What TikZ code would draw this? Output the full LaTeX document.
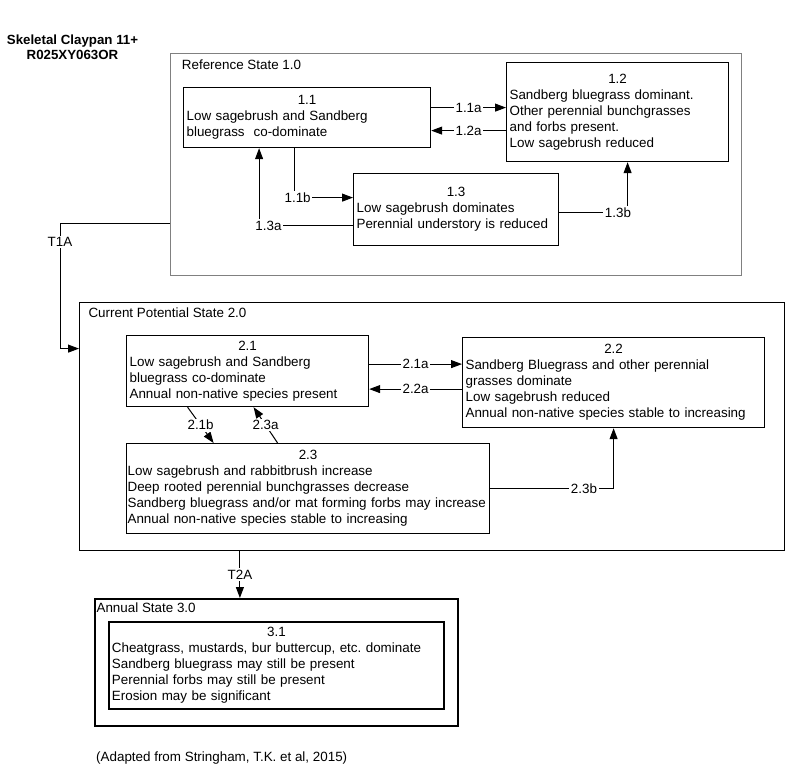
\documentclass[tikz,border=0pt]{standalone}
\usepackage{fontspec}
\setmainfont{Liberation Sans}
\usetikzlibrary{arrows.meta,calc}
\frenchspacing

\tikzset{
  stbox/.style={draw, line width=1.2pt, anchor=north west, align=left, inner xsep=3pt, inner ysep=0pt},
  stlbl/.style={anchor=base west, inner sep=0pt},
  tr/.style={line width=1pt, -{Triangle[length=11pt,width=8pt]}},
  lbl/.style={fill=white, inner sep=1.5pt},
}

\begin{document}
\begin{tikzpicture}[x=1pt, y=-1pt, font=\fontsize{13.4}{16}\selectfont]
    %%Background
    \useasboundingbox (0,0) rectangle (800,773);
    %%
    \node[font=\fontsize{13.3}{15}\selectfont\bfseries, align=center] (title) at (72.5,47.7) {Skeletal Claypan 11+\\R025XY063OR};

    %% state containers
    \node[stbox, draw=gray, minimum width=571pt, minimum height=222pt] (ref) at (170,53) {};
    \node[stlbl] (reft) at ($(ref.north west)+(11.7,16.3)$) {Reference State 1.0};
    \node[stbox, minimum width=705pt, minimum height=248pt] (cur) at (79,302) {};
    \node[stlbl] (curt) at ($(cur.north west)+(9.3,15.6)$) {Current Potential State 2.0};
    \node[stbox, line width=1.8pt, minimum width=363pt, minimum height=127pt] (ann) at (94,598) {};
    \node[stlbl] (annt) at ($(ann.north west)+(2.4,14.7)$) {Annual State 3.0};

    %% community phases
    \node[stbox, text width=241pt, minimum height=60pt] (s11) at (183,87)
        {\makebox[\linewidth]{1.1}\\Low sagebrush and Sandberg\\bluegrass~~co-dominate};
    \node[stbox, text width=216pt, minimum height=99pt] (s12) at (506,62)
        {\makebox[\linewidth]{1.2}\\Sandberg bluegrass dominant.\\Other perennial bunchgrasses\\and forbs present.\\Low sagebrush reduced};
    \node[stbox, text width=199pt, minimum height=72pt] (s13) at (353,173)
        {\makebox[\linewidth]{1.3}\\Low sagebrush dominates\\Perennial understory is reduced};

    \node[stbox, text width=236pt, minimum height=71pt] (s21) at (126,335)
        {\makebox[\linewidth]{2.1}\\Low sagebrush and Sandberg\\bluegrass co-dominate\\Annual non-native species present};
    \node[stbox, text width=296pt, minimum height=90pt] (s22) at (462,337)
        {\makebox[\linewidth]{2.2}\\Sandberg Bluegrass and other perennial\\grasses dominate\\Low sagebrush reduced\\Annual non-native species stable to increasing};
    \node[stbox, inner xsep=1pt, text width=361pt, minimum height=90pt] (s23) at (126,443)
        {\makebox[\linewidth]{2.3}\\Low sagebrush and rabbitbrush increase\\Deep rooted perennial bunchgrasses decrease\\\mbox{Sandberg bluegrass and/or mat forming forbs may increase}\\Annual non-native species stable to increasing};

    \node[stbox, line width=1.8pt, text width=329pt, minimum height=87pt] (s31) at (108,621)
        {\makebox[\linewidth]{3.1}\\Cheatgrass, mustards, bur buttercup, etc. dominate\\Sandberg bluegrass may still be present\\Perennial forbs may still be present\\Erosion may be significant};

    %% pathways
    \draw[tr] ($(s11.east)+(0,-10)$) -- node[lbl]{1.1a} ($(s11.east -| s12.west)+(0,-10)$);
    \draw[tr] ($(s11.east -| s12.west)+(0,13)$) -- node[lbl]{1.2a} ($(s11.east)+(0,13)$);
    \draw[tr] ($(s11.south)+(-13,0)$) |- node[lbl, pos=0.53]{1.1b} ($(s13.west)+(0,-12)$);
    \draw[tr] ($(s13.west)+(0,16)$) -| node[lbl, pos=0.45]{1.3a} ($(s11.south)+(-48,0)$);
    \draw[tr] ($(s13.east)+(0,3)$) -| node[lbl, pos=0.43]{1.3b} ($(s12.south)+(10,0)$);

    \draw[tr] ($(s21.east)+(0,-7)$) -- node[lbl]{2.1a} ($(s21.east -| s22.west)+(0,-7)$);
    \draw[tr] ($(s21.east -| s22.west)+(0,18)$) -- node[lbl]{2.2a} ($(s21.east)+(0,18)$);
    \draw[tr] ($(s21.south)+(-60,0)$) -- node[lbl]{2.1b} ($(s23.north)+(-94.5,0)$);
    \draw[tr] ($(s23.north)+(-30.5,0)$) -- node[lbl]{2.3a} ($(s21.south)+(6,0)$);
    \draw[tr] (s23.east) -| node[lbl, pos=0.38]{2.3b} (s22.south);

    %% transitions
    \draw[tr] ($(ref.west)+(0,59)$) -| node[lbl, pos=0.575]{T1A} ($(cur.west)+(-19,-78)$) -- ($(cur.west)+(0,-78)$);
    \draw[tr] ($(cur.south -| ann.north)+(-36.5,0)$) -- node[lbl]{T2A} ($(ann.north)+(-36.5,0)$);

    \node[anchor=base west, inner sep=0pt] (src) at (96,761.5) {(Adapted from Stringham, T.K. et al, 2015)};
\end{tikzpicture}
\end{document}
